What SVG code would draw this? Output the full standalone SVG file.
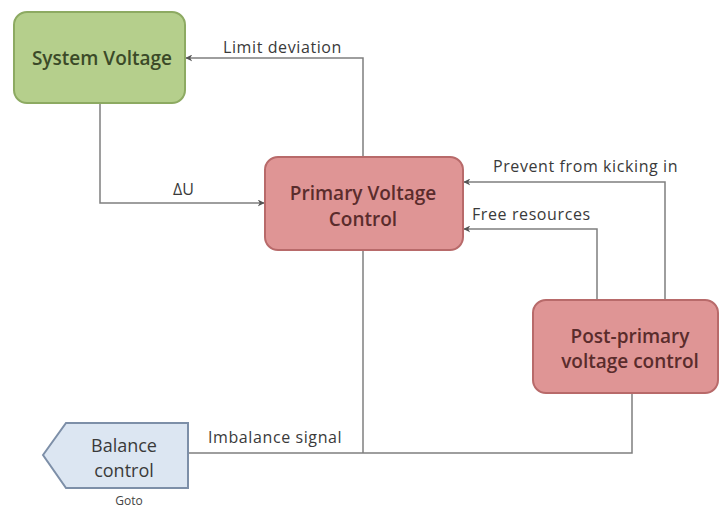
<svg xmlns="http://www.w3.org/2000/svg" width="721" height="508" viewBox="0 0 721 508">
  <style>
    .lbl { font-family: "Open Sans", "Liberation Sans", sans-serif; font-size: 16px; letter-spacing: 0.6px; fill: #3a3a3a; }
    .node-text { font-family: "Open Sans", "Liberation Sans", sans-serif; font-size: 19px; font-weight: 600; text-anchor: middle; }
    .plain-text { font-family: "Open Sans", "Liberation Sans", sans-serif; font-size: 18px; font-weight: 400; text-anchor: middle; fill: #3a3a3a; }
    .wire { fill: none; stroke: #7f7f7f; stroke-width: 1.5; }
    .green { fill: #b5cf8c; stroke: #8daa62; stroke-width: 2; }
    .red { fill: #df9595; stroke: #b86a6a; stroke-width: 2; }
    .blue { fill: #dce6f2; stroke: #7d8fa8; stroke-width: 2; }
  </style>
  <defs>
    <marker id="arrow" viewBox="0 0 10 10" refX="9" refY="5" markerWidth="7" markerHeight="7" orient="auto" markerUnits="userSpaceOnUse">
      <path d="M0,0 L10,5 L0,10 L3,5 Z" fill="#555555"/>
    </marker>
  </defs>
  <rect width="721" height="508" fill="#ffffff"/>

  <g id="connectors">
    <!-- Primary -> System Voltage -->
    <path class="wire" d="M363,157 V58 H186" marker-end="url(#arrow)"/>
    <!-- System Voltage -> Primary -->
    <path class="wire" d="M100,103 V203 H264" marker-end="url(#arrow)"/>
    <!-- Post-primary -> Primary -->
    <path class="wire" d="M665,300 V182 H464" marker-end="url(#arrow)"/>
    <path class="wire" d="M597,300 V229 H464" marker-end="url(#arrow)"/>
    <!-- Imbalance signal bus -->
    <path class="wire" d="M363,250 V453"/>
    <path class="wire" d="M632,393 V453 H189"/>
    <text class="lbl" x="223" y="53">Limit deviation</text>
    <text class="lbl" x="173" y="195" style="letter-spacing:0">ΔU</text>
    <text class="lbl" x="493" y="172">Prevent from kicking in</text>
    <text class="lbl" x="472" y="220">Free resources</text>
    <text class="lbl" x="208" y="443">Imbalance signal</text>
  </g>

  <g id="system-voltage">
    <rect class="green" x="14" y="12" width="171" height="91" rx="13"/>
    <text class="node-text" x="102" y="65" fill="#3b4a28">System Voltage</text>
  </g>

  <g id="primary-voltage-control">
    <rect class="red" x="265" y="157" width="198" height="93" rx="13"/>
    <text class="node-text" x="363" y="200" fill="#5a2c2c">Primary Voltage</text>
    <text class="node-text" x="363" y="226" fill="#5a2c2c">Control</text>
  </g>

  <g id="post-primary-voltage-control">
    <rect class="red" x="533" y="300" width="185" height="93" rx="13"/>
    <text class="node-text" x="630" y="343" fill="#5a2c2c">Post-primary</text>
    <text class="node-text" x="630" y="368" fill="#5a2c2c">voltage control</text>
  </g>

  <g id="balance-control">
    <path class="blue" d="M43,455 L66,423 H188 V488 H66 Z"/>
    <text class="plain-text" x="124" y="452">Balance</text>
    <text class="plain-text" x="124" y="477">control</text>
    <text x="129" y="505" font-family="Open Sans, Liberation Sans, sans-serif" font-size="12" text-anchor="middle" fill="#444444">Goto</text>
  </g>
</svg>
